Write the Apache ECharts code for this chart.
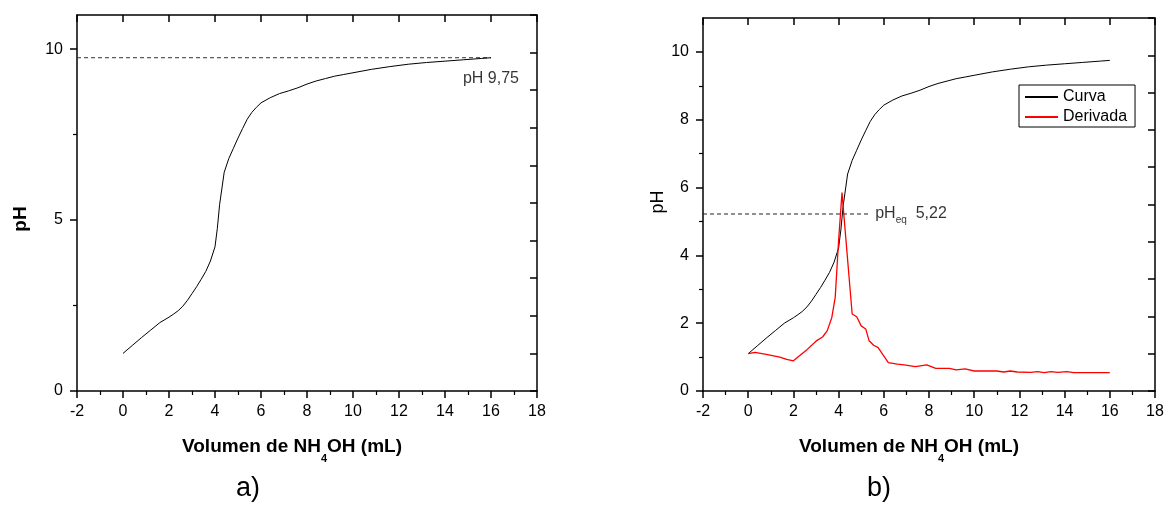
<!DOCTYPE html>
<html><head><meta charset="utf-8">
<script src="https://cdn.jsdelivr.net/npm/echarts@6/dist/echarts.min.js"></script>
<style>html,body{margin:0;padding:0;background:#fff}#c{width:1167px;height:517px}</style>
</head><body><div id="c"></div>
<script>
// ---- data ----
const volumenCurva = [0,0.4,0.8,1.2,1.6,2.0,2.2,2.4,2.6,2.8,3.0,3.2,3.4,3.6,3.8,4.0,4.1,4.2,4.4,4.6,4.8,5.0,5.2,5.4,5.6,5.8,6.0,6.4,6.8,7.2,7.6,8.0,8.4,8.8,9.2,9.6,10.0,10.8,11.6,12.4,13.2,14.0,14.8,15.6,16.0];
const pHCurva = [1.10,1.33,1.56,1.78,2.00,2.16,2.25,2.35,2.48,2.65,2.85,3.05,3.27,3.50,3.80,4.22,4.75,5.45,6.40,6.80,7.10,7.40,7.68,7.95,8.15,8.30,8.43,8.58,8.70,8.78,8.87,8.98,9.07,9.14,9.21,9.26,9.31,9.41,9.49,9.56,9.61,9.65,9.69,9.73,9.75];
const volumenDerivada = [0,0.3,0.8,1.4,1.7,2.0,2.2,2.6,3.0,3.3,3.5,3.7,3.85,4.0,4.15,4.6,4.8,5.0,5.2,5.35,5.55,5.75,6.2,6.6,6.9,7.4,7.9,8.3,8.9,9.2,9.6,10.0,11.0,11.3,11.6,11.9,12.5,12.8,13.1,13.4,13.7,14.1,14.4,16.0];
const derivada = [1.10,1.14,1.08,1.00,0.93,0.89,1.00,1.22,1.47,1.60,1.78,2.17,2.76,4.44,5.85,2.27,2.19,1.92,1.83,1.48,1.35,1.28,0.84,0.79,0.77,0.72,0.77,0.67,0.67,0.62,0.65,0.59,0.59,0.56,0.59,0.56,0.55,0.57,0.54,0.57,0.55,0.57,0.54,0.54];
const yTicksA = [0,5,10];
const yTicksB = [0,2,4,6,8,10];
const pHFinal = 9.75, volFinal = 16;
const pHEq = 5.22, volEqLineEnd = 5.32;
const etiquetaA = [14.78, 9.15];
const etiquetaB = [5.62, 5.22];
const seriesNames = ['Curva','Derivada'];

const FONT = 'Liberation Sans, Arial, sans-serif';
const zip = (a,b) => a.map((v,i)=>[v,b[i]]);

const chart = echarts.init(document.getElementById('c'), null, {renderer:'canvas'});
const axisLine = {show:true, onZero:false, lineStyle:{color:'#000', width:1.5}};
function bottomX(grid){
  return {gridIndex:grid, type:'value', position:'bottom', min:-2, max:18, interval:2,
    axisLine, splitLine:{show:false},
    axisTick:{show:true, inside:false, length:7, lineStyle:{color:'#000', width:1.5}},
    minorTick:{show:true, splitNumber:2, length:4, lineStyle:{color:'#000', width:1.2}},
    axisLabel:{show:true, fontSize:16, fontFamily:FONT, color:'#000', margin:13}};
}
function topX(grid){
  return {gridIndex:grid, type:'value', position:'top', min:-2, max:18, interval:2,
    axisLine, splitLine:{show:false},
    axisTick:{show:true, inside:true, length:7, lineStyle:{color:'#000', width:1.5}},
    axisLabel:{show:false}};
}
function leftY(grid, interval, ticks){
  return {gridIndex:grid, type:'value', position:'left', min:0, max:11, interval,
    axisLine, splitLine:{show:false},
    axisTick:{show:true, inside:false, length:7, customValues:ticks, lineStyle:{color:'#000', width:1.5}},
    minorTick:{show:true, splitNumber:2, length:4, lineStyle:{color:'#000', width:1.2}},
    axisLabel:{show:true, customValues:ticks, fontSize:16, fontFamily:FONT, color:'#000', margin:14}};
}
function rightY(grid){
  return {gridIndex:grid, type:'value', position:'right', min:0, max:11, interval:1.1,
    axisLine, splitLine:{show:false},
    axisTick:{show:true, inside:true, length:7, lineStyle:{color:'#000', width:1.5}},
    axisLabel:{show:false}};
}

const option = {
  animation:false,
  backgroundColor:'#fff',
  grid:[
    {left:77, top:15, width:460, height:376},
    {left:703, top:18, width:452, height:373}
  ],
  xAxis:[bottomX(0), topX(0), bottomX(1), topX(1)],
  yAxis:[leftY(0,5,yTicksA), rightY(0), leftY(1,2,yTicksB), rightY(1)],
  legend:{
    data:seriesNames, left:1019, top:85, orient:'vertical',
    borderColor:'#000', borderWidth:1, borderRadius:0, padding:[4,8,2,5],
    itemGap:4, itemWidth:33, itemHeight:16,
    itemStyle:{opacity:0},
    textStyle:{fontSize:16, fontFamily:FONT, color:'#000'}
  },
  series:[
    {type:'line', xAxisIndex:0, yAxisIndex:0, data:zip(volumenCurva,pHCurva), showSymbol:false, symbol:'none',
     lineStyle:{color:'#000', width:1}, z:3},
    {type:'line', xAxisIndex:0, yAxisIndex:0, data:[[-2,pHFinal],[volFinal,pHFinal]], symbol:'none',
     lineStyle:{color:'#333', width:1, type:[4,3]}, z:2},
    {type:'scatter', xAxisIndex:0, yAxisIndex:0, data:[etiquetaA], symbolSize:0,
     label:{show:true, position:'right', distance:0, formatter:'pH 9,75', fontSize:16, fontFamily:FONT, color:'#000'}},
    {name:'Curva', type:'line', xAxisIndex:2, yAxisIndex:2, data:zip(volumenCurva,pHCurva), symbol:'none',
     color:'#000', lineStyle:{color:'#000', width:1}, z:3},
    {name:'Derivada', type:'line', xAxisIndex:2, yAxisIndex:2, data:zip(volumenDerivada,derivada), symbol:'none',
     color:'#ff0000', lineStyle:{color:'#ff0000', width:1.3}, z:4},
    {type:'line', xAxisIndex:2, yAxisIndex:2, data:[[-2,pHEq],[volEqLineEnd,pHEq]], symbol:'none',
     lineStyle:{color:'#222', width:1, type:[4,3]}, z:2},
    {type:'scatter', xAxisIndex:2, yAxisIndex:2, data:[etiquetaB], symbolSize:0,
     label:{show:true, position:'right', distance:0, formatter:'{a|pH}{s|eq}{a|  5,22}',
       rich:{a:{fontSize:16, fontFamily:FONT, color:'#000', lineHeight:22, verticalAlign:'middle'},
             s:{fontSize:10, fontFamily:FONT, color:'#000', lineHeight:10, verticalAlign:'bottom'}}}}
  ],
  graphic:[
    {type:'text', x:292, y:447, style:{text:'{b|Volumen de NH}{s|4}{b|OH (mL)}', align:'center', verticalAlign:'middle',
      rich:{b:{font:'bold 19px '+FONT, fill:'#000', lineHeight:34, verticalAlign:'middle'},
            s:{font:'bold 11px '+FONT, fill:'#000', lineHeight:11, verticalAlign:'bottom'}}}},
    {type:'text', x:909, y:447, style:{text:'{b|Volumen de NH}{s|4}{b|OH (mL)}', align:'center', verticalAlign:'middle',
      rich:{b:{font:'bold 19px '+FONT, fill:'#000', lineHeight:34, verticalAlign:'middle'},
            s:{font:'bold 11px '+FONT, fill:'#000', lineHeight:11, verticalAlign:'bottom'}}}},
    {type:'text', x:21, y:219, rotation:Math.PI/2, style:{text:'pH', font:'bold 19px '+FONT, fill:'#000', align:'center', verticalAlign:'middle'}},
    {type:'text', x:658, y:202, rotation:Math.PI/2, style:{text:'pH', font:'18px '+FONT, fill:'#000', align:'center', verticalAlign:'middle'}},
    {type:'text', x:248, y:489, style:{text:'a)', font:'27px '+FONT, fill:'#000', align:'center', verticalAlign:'middle'}},
    {type:'text', x:879, y:489, style:{text:'b)', font:'27px '+FONT, fill:'#000', align:'center', verticalAlign:'middle'}}
  ]
};
chart.setOption(option);
</script>
</body></html>
